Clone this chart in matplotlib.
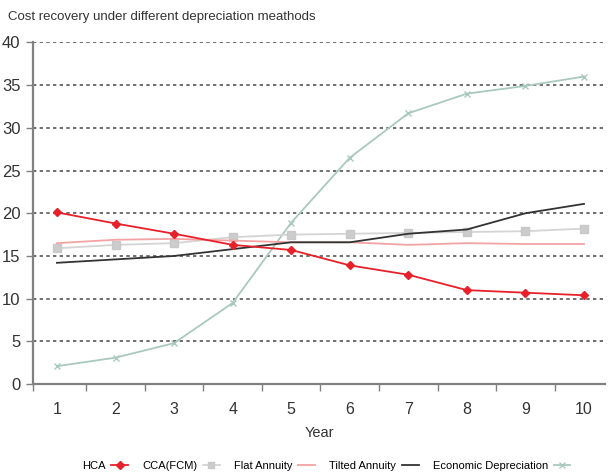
import numpy as np
import matplotlib
matplotlib.use('Agg')
import matplotlib.pyplot as plt

plt.rcParams['font.family'] = ['Liberation Sans Narrow', 'Liberation Sans', 'DejaVu Sans']

years = [1, 2, 3, 4, 5, 6, 7, 8, 9, 10]
hca = [20.1, 18.8, 17.6, 16.3, 15.7, 13.9, 12.8, 11.0, 10.7, 10.4]
cca_fcm = [15.9, 16.3, 16.5, 17.2, 17.5, 17.6, 17.7, 17.8, 17.9, 18.2]
flat_annuity = [16.5, 16.9, 17.0, 16.8, 16.6, 16.6, 16.3, 16.5, 16.4, 16.4]
tilted_annuity = [14.2, 14.6, 15.0, 15.8, 16.6, 16.6, 17.6, 18.1, 20.0, 21.1]
economic_dep = [2.1, 3.1, 4.8, 9.5, 18.9, 26.5, 31.7, 34.0, 34.9, 36.0]

fig = plt.figure(figsize=(6.1, 4.76), dpi=100)
ax = fig.add_axes([0.054, 0.193, 0.938, 0.718])

ax.plot(years, hca, color='#e8202a', marker='D', markersize=4.5, lw=1.3, label='HCA', zorder=5)
ax.plot(years, cca_fcm, color='#d4d4d4', marker='s', markersize=6, markeredgecolor='#c8c8c8',
        markerfacecolor='#cccccc', lw=1.3, label='CCA(FCM)', zorder=3)
ax.plot(years, flat_annuity, color='#f4a3a3', lw=1.3, label='Flat Annuity', zorder=3)
ax.plot(years, tilted_annuity, color='#333333', lw=1.3, label='Tilted Annuity', zorder=4)
ax.plot(years, economic_dep, color='#a9c9bd', marker='x', markersize=5, lw=1.3,
        label='Economic Depreciation', zorder=2)

ax.set_xlim(0.59, 10.36)
ax.set_ylim(0, 40)
ax.set_yticks(range(0, 41, 5))
ax.set_xticks(years)
ax.set_xticks([0.59] + [y + 0.5 for y in years[:-1]], minor=True)

for v in range(5, 41, 5):
    ax.axhline(v, color='#555555', lw=1.2, ls=(0, (2, 2)), zorder=1)

for s in ['top', 'right']:
    ax.spines[s].set_visible(False)
for s in ['left', 'bottom']:
    ax.spines[s].set_color('#808080')
    ax.spines[s].set_linewidth(1.6)

ax.tick_params(axis='y', direction='out', length=5, width=1, color='#808080',
               labelsize=12, labelcolor='#333333', pad=4)
ax.tick_params(axis='x', which='major', length=0, labelsize=11.5, labelcolor='#333333', pad=13)
ax.tick_params(axis='x', which='minor', direction='out', length=5, width=1, color='#808080')

ax.set_xlabel('Year', fontsize=10.5, color='#333333', labelpad=6)
fig.text(0.013, 0.965, 'Cost recovery under different depreciation meathods',
         fontsize=9.5, color='#333333', ha='left', va='center')

fig.legend(loc='center', bbox_to_anchor=(0.535, 0.021), ncol=5, frameon=False,
           markerfirst=False, fontsize=8, handlelength=1.5, columnspacing=1.3,
           handletextpad=0.5, markerscale=0.8)

fig.savefig('out.png', dpi=100)
